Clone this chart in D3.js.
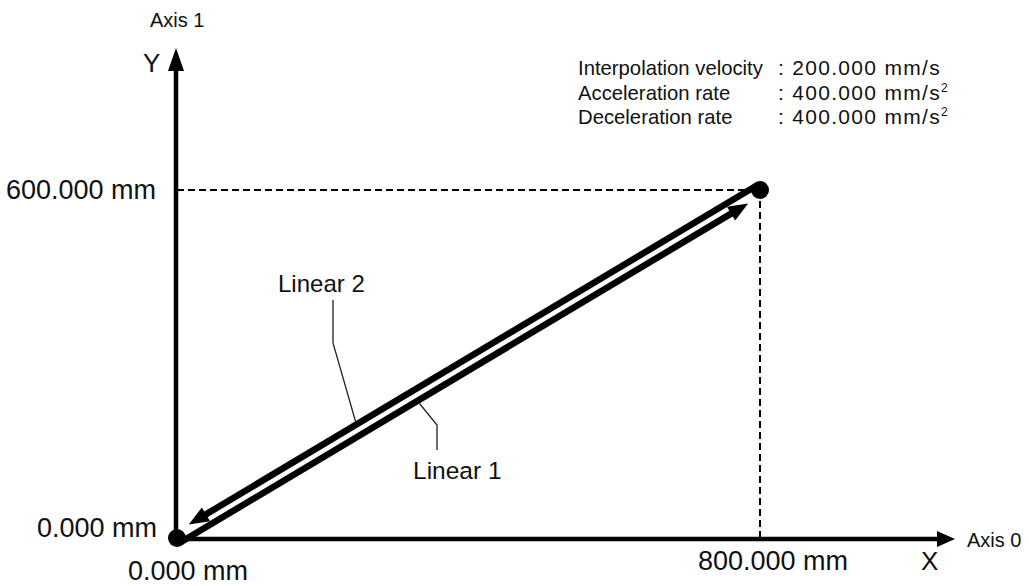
<!DOCTYPE html>
<html>
<head>
<meta charset="utf-8">
<script src="https://cdn.jsdelivr.net/npm/d3@7"></script>
<style>
  html, body { margin: 0; padding: 0; background: #fff; }
  svg { display: block; }
  text { font-family: "Liberation Sans", Arial, Helvetica, sans-serif; fill: #111; }
</style>
</head>
<body>
<svg id="chart" width="1029" height="586"></svg>
<script>
// ---- data ----
const xDomain = [0, 800];             // mm, Axis 0
const yDomain = [0, 600];             // mm, Axis 1
const xTickValues = [0, 800];
const yTickValues = [0, 600];
const xTickLabels = ["0.000 mm", "800.000 mm"];
const yTickLabels = ["0.000 mm", "600.000 mm"];
const pathPoints = [ {x: 0, y: 0}, {x: 800, y: 600} ];
const moves = ["Linear 1", "Linear 2"];   // Linear 1: start -> end, Linear 2: end -> start
const paramNames = ["Interpolation velocity", "Acceleration rate", "Deceleration rate"];
const paramValues = [": 200.000 mm/s", ": 400.000 mm/s", ": 400.000 mm/s"];
const paramSup = ["", "2", "2"];
const axisNames = ["Axis 0", "Axis 1"];
const axisLetters = ["X", "Y"];

// ---- scales ----
const x = d3.scaleLinear().domain(xDomain).range([177, 760]);
const y = d3.scaleLinear().domain(yDomain).range([538, 190]);

const svg = d3.select("#chart");

// dashed guide lines to end point
const pEnd = pathPoints[1];
svg.append("line")
  .attr("x1", x(0)).attr("y1", y(pEnd.y)).attr("x2", x(pEnd.x)).attr("y2", y(pEnd.y))
  .attr("stroke", "#000").attr("stroke-width", 2).attr("stroke-dasharray", "7,4");
svg.append("line")
  .attr("x1", x(pEnd.x)).attr("y1", y(pEnd.y)).attr("x2", x(pEnd.x)).attr("y2", y(0))
  .attr("stroke", "#000").attr("stroke-width", 2).attr("stroke-dasharray", "7,4");

// axes
const yTop = 48, xRight = 955;
svg.append("line").attr("x1", x(0) - 1).attr("y1", y(0)).attr("x2", x(0) - 1).attr("y2", yTop + 18)
  .attr("stroke", "#000").attr("stroke-width", 4.5);
svg.append("path")
  .attr("d", `M${x(0) - 1},${yTop} L${x(0) - 9},${yTop + 23} L${x(0) + 7},${yTop + 23} Z`)
  .attr("fill", "#000");
svg.append("line").attr("x1", x(0)).attr("y1", y(0) + 1).attr("x2", xRight - 14).attr("y2", y(0) + 1)
  .attr("stroke", "#000").attr("stroke-width", 4.5);
svg.append("path")
  .attr("d", `M${xRight},${y(0) + 1} L${xRight - 18},${y(0) - 7} L${xRight - 18},${y(0) + 9} Z`)
  .attr("fill", "#000");

// movement arrows
const p0 = [x(pathPoints[0].x), y(pathPoints[0].y)];
const p1 = [x(pathPoints[1].x), y(pathPoints[1].y)];
const dx = p1[0] - p0[0], dy = p1[1] - p0[1];
const L = Math.hypot(dx, dy);
const u = [dx / L, dy / L];
const n = [-u[1], u[0]];   // points down-right (below line)
const pt = (t, off) => [p0[0] + u[0] * t + n[0] * off, p0[1] + u[1] * t + n[1] * off];
const headLen = 20, headHalf = 8, sw = 6.5;

function arrow(fromT, toT, off) {
  const dir = toT > fromT ? 1 : -1;
  const a = pt(fromT, off);
  const tip = pt(toT, off);
  const base = pt(toT - dir * headLen, off);
  const baseLine = pt(toT - dir * (headLen - 2), off);
  svg.append("line").attr("x1", a[0]).attr("y1", a[1]).attr("x2", baseLine[0]).attr("y2", baseLine[1])
    .attr("stroke", "#000").attr("stroke-width", sw);
  const b1 = [base[0] + n[0] * headHalf, base[1] + n[1] * headHalf];
  const b2 = [base[0] - n[0] * headHalf, base[1] - n[1] * headHalf];
  svg.append("path").attr("d", `M${tip[0]},${tip[1]} L${b1[0]},${b1[1]} L${b2[0]},${b2[1]} Z`).attr("fill", "#000");
}
arrow(0, L - 17, 5.5);     // Linear 1
arrow(L, 17, -5.5);        // Linear 2

// points
svg.selectAll("circle.pt").data(pathPoints).join("circle")
  .attr("class", "pt").attr("cx", d => x(d.x)).attr("cy", d => y(d.y)).attr("r", 9).attr("fill", "#000");

// leader lines & labels
function leader(t, off, pts) {
  const s = pt(t, off);
  svg.append("path").attr("d", d3.line()([s, ...pts])).attr("fill", "none").attr("stroke", "#222").attr("stroke-width", 1.3);
}
// Linear 2 (upper)
leader((360 - p0[0]) / u[0], -8.8, [[333, 343], [333, 300]]);
svg.append("text").attr("x", 278).attr("y", 292).attr("font-size", 24).text(moves[1]);
// Linear 1 (lower)
leader((415 - p0[0]) / u[0], 8.8, [[437, 425], [437, 450]]);
svg.append("text").attr("x", 413).attr("y", 479).attr("font-size", 24.5).text(moves[0]);

// tick labels
svg.append("text").attr("x", x(xTickValues[0]) - 49).attr("y", 580).attr("font-size", 27).text(xTickLabels[0]);
svg.append("text").attr("x", x(xTickValues[1]) - 62).attr("y", 570).attr("font-size", 27).text(xTickLabels[1]);
svg.append("text").attr("x", x(0) - 20).attr("y", y(yTickValues[0]) - 1).attr("text-anchor", "end").attr("font-size", 27).text(yTickLabels[0]);
svg.append("text").attr("x", x(0) - 21).attr("y", y(yTickValues[1]) + 9).attr("text-anchor", "end").attr("font-size", 27).text(yTickLabels[1]);

// axis letters & names
svg.append("text").attr("x", 921).attr("y", 570).attr("font-size", 26).text(axisLetters[0]);
svg.append("text").attr("x", 143).attr("y", 72).attr("font-size", 26).text(axisLetters[1]);
svg.append("text").attr("x", 967).attr("y", 547).attr("font-size", 20).text(axisNames[0]);
svg.append("text").attr("x", 150).attr("y", 27).attr("font-size", 20).text(axisNames[1]);

// parameters block
paramNames.forEach((nm, i) => {
  const yy = 75 + i * 24.5;
  svg.append("text").attr("x", 578).attr("y", yy).attr("font-size", 20.3).text(nm);
  const t = svg.append("text").attr("x", 778).attr("y", yy).attr("font-size", 21)
    .attr("letter-spacing", 1.3).text(paramValues[i]);
  if (paramSup[i]) t.append("tspan").attr("dy", -8).attr("font-size", 12).attr("letter-spacing", 0).text(paramSup[i]);
});
</script>
</body>
</html>
